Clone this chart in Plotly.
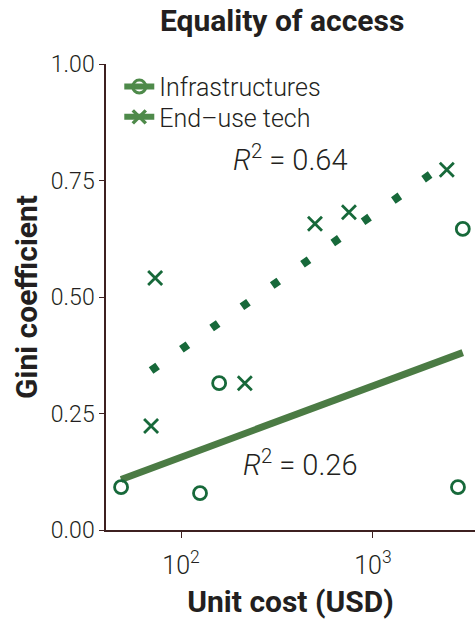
import numpy as np
import plotly.graph_objects as go

# Data
infra_cost = [48.7, 125.6, 158, 2940, 2775]
infra_gini = [0.092, 0.079, 0.315, 0.646, 0.092]
enduse_cost = [73.3, 69.8, 215, 499, 750, 2427]
enduse_gini = [0.541, 0.223, 0.315, 0.657, 0.682, 0.773]

series_names = ["Infrastructures", "End\u2013use tech"]
x_tickvals = [100, 1000]
x_ticktext = ["10<sup>2</sup>", "10<sup>3</sup>"]
y_tickvals = [0, 0.25, 0.5, 0.75, 1.0]
y_ticktext = ["0.00", "0.25", "0.50", "0.75", "1.00"]

FONT = "Roboto, sans-serif"
TXT = "#231f20"
MK = "#17693a"
LINE = "#4b7b44"
LEG = "#4e8a4a"
AX = "#3d2020"


def fit(xs, ys):
    lx = np.log10(np.array(xs, dtype=float))
    y = np.array(ys, dtype=float)
    b, a = np.polyfit(lx, y, 1)
    r2 = np.corrcoef(lx, y)[0, 1] ** 2
    xe = np.array([lx.min(), lx.max()])
    return 10 ** xe, a + b * xe, r2


ix, iy, ir2 = fit(infra_cost, infra_gini)
ex, ey, er2 = fit(enduse_cost, enduse_gini)

fig = go.Figure()
fig.add_trace(go.Scatter(x=ix, y=iy, mode="lines", line=dict(color=LINE, width=7),
                         showlegend=False, hoverinfo="skip"))
fig.add_trace(go.Scatter(x=ex, y=ey, mode="lines",
                         line=dict(color=MK, width=8, dash="8px,29px"),
                         showlegend=False, hoverinfo="skip"))
fig.add_trace(go.Scatter(x=infra_cost, y=infra_gini, mode="markers",
                         marker=dict(symbol="circle-open", size=13, color=MK,
                                     line=dict(width=2.8, color=MK)),
                         showlegend=False))
fig.add_trace(go.Scatter(x=enduse_cost, y=enduse_gini, mode="markers",
                         marker=dict(symbol="x-thin-open", size=14, color=MK,
                                     line=dict(width=2.8, color=MK)),
                         showlegend=False))
# legend entries (one legend each, to control row spacing)
fig.add_trace(go.Scatter(x=[None], y=[None], mode="lines+markers", name=series_names[0],
                         legend="legend",
                         line=dict(color=LEG, width=6),
                         marker=dict(symbol="circle-open", size=13, color=LEG,
                                     line=dict(width=3, color=LEG))))
fig.add_trace(go.Scatter(x=[None], y=[None], mode="lines+markers", name=series_names[1],
                         legend="legend2",
                         line=dict(color=LEG, width=6),
                         marker=dict(symbol="x-thin-open", size=13, color=LEG,
                                     line=dict(width=3.5, color=LEG))))

leg_common = dict(x=0.036, xanchor="left", yanchor="middle",
                  font=dict(size=25, family=FONT, color=TXT, weight=300),
                  bgcolor="rgba(0,0,0,0)", itemwidth=30)

fig.update_layout(
    width=475, height=620,
    margin=dict(l=106, r=0, t=64, b=90),
    paper_bgcolor="white", plot_bgcolor="white",
    font=dict(family=FONT, color=TXT, size=22),
    title=dict(text="<b>Equality of access</b>", x=0.594, xanchor="center",
               y=0.967, yanchor="middle",
               font=dict(size=30, family=FONT, color=TXT, weight=900)),
    legend=dict(y=0.951, **leg_common),
    legend2=dict(y=0.886, **leg_common),
    xaxis=dict(type="log", range=[1.609, 3.532], tickvals=x_tickvals, ticktext=x_ticktext,
               showgrid=False, zeroline=False, showline=True, linecolor=AX, linewidth=1.5,
               ticks="outside", ticklen=6, tickcolor=AX, tickwidth=1,
               ticklabelstandoff=6,
               tickfont=dict(size=25, family=FONT, color=TXT, weight=300),
               title=dict(text="<b>Unit cost (USD)</b>", standoff=12,
                          font=dict(size=30, family=FONT, color=TXT, weight=900))),
    yaxis=dict(range=[0, 1], tickvals=y_tickvals, ticktext=y_ticktext,
               showgrid=False, zeroline=False, showline=True, linecolor=AX, linewidth=1.5,
               ticks="outside", ticklen=5, tickcolor=AX, tickwidth=1,
               tickfont=dict(size=23, family=FONT, color=TXT, weight=300),
               title=dict(text="<b>Gini coefficient</b>", standoff=4,
                          font=dict(size=30, family=FONT, color=TXT, weight=900))),
)

fig.add_annotation(xref="paper", yref="paper", x=0.501, y=0.798,
                   xanchor="center", yanchor="middle",
                   text=f"<i>R</i><sup>2</sup> = {er2:.2f}", showarrow=False,
                   font=dict(size=29, family=FONT, color=TXT, weight=300))
fig.add_annotation(xref="paper", yref="paper", x=0.528, y=0.144,
                   xanchor="center", yanchor="middle",
                   text=f"<i>R</i><sup>2</sup> = {ir2:.2f}", showarrow=False,
                   font=dict(size=29, family=FONT, color=TXT, weight=300))

fig.write_html("out.html")
